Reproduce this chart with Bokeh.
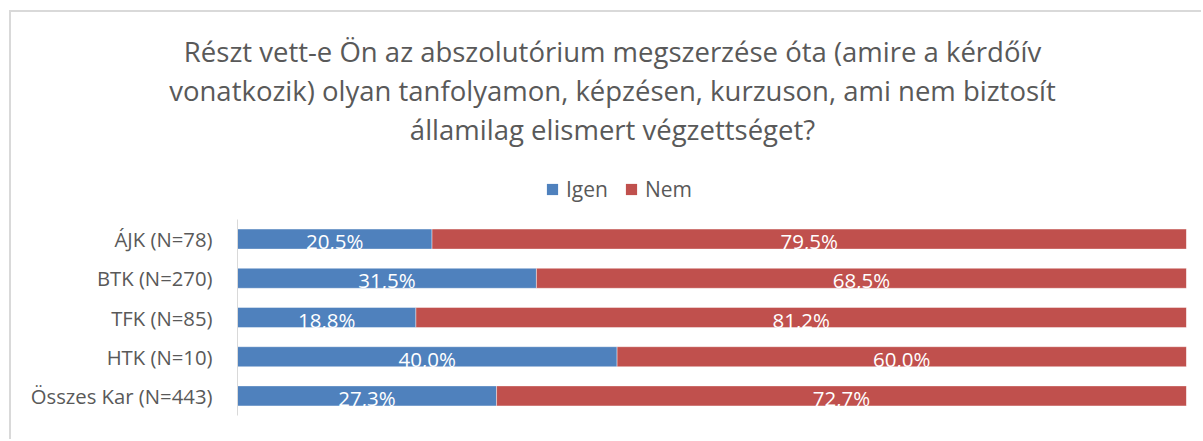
from bokeh.plotting import figure
from bokeh.layouts import column
from bokeh.models import ColumnDataSource, Range1d, FactorRange, Legend, LegendItem, Label
from bokeh.embed import file_html
from bokeh.resources import INLINE
from bokeh.core.properties import value

# ---- data ----
categories = ["ÁJK (N=78)", "BTK (N=270)", "TFK (N=85)", "HTK (N=10)", "Összes Kar (N=443)"]
igen = [20.5, 31.5, 18.8, 40.0, 27.3]
nem = [79.5, 68.5, 81.2, 60.0, 72.7]
series_names = ["Igen", "Nem"]
title_lines = [
    "Részt vett-e Ön az abszolutórium megszerzése óta (amire a kérdőív",
    "vonatkozik) olyan tanfolyamon, képzésen, kurzuson, ami nem biztosít",
    "államilag elismert végzettséget?",
]

FONT = "Open Sans"
BLUE = "#4F81BD"
RED = "#C0504D"
GREY = "#595959"
BORDER = "2px solid #D9D9D9"


def fmt(v):
    return f"{v:.1f}".replace(".", ",") + "%"


nem_left = igen
nem_right = [a + b for a, b in zip(igen, nem)]

src_igen = ColumnDataSource(dict(
    cat=categories, left=[0] * len(igen), right=igen,
    xc=[r / 2 for r in igen], lab=[fmt(v) for v in igen]))
src_nem = ColumnDataSource(dict(
    cat=categories, left=nem_left, right=nem_right,
    xc=[(l + r) / 2 for l, r in zip(nem_left, nem_right)], lab=[fmt(v) for v in nem]))
sources = (src_igen, src_nem)
colors = (BLUE, RED)

# ---------------- header: title + legend ----------------
HW, HH = 1192, 200
head = figure(width=HW, height=HH, output_backend="svg", toolbar_location=None,
              x_range=Range1d(0, HW), y_range=Range1d(0, HH),
              x_axis_location=None, y_axis_location=None,
              min_border=0, min_border_left=0, min_border_right=0,
              min_border_top=0, min_border_bottom=0)
head.frame_align = False
head.outline_line_color = None
head.grid.visible = False
head.background_fill_color = "white"
head.border_fill_color = "white"
head.styles = {"border-top": BORDER, "border-left": BORDER}

for i, line in enumerate(title_lines):
    head.add_layout(Label(x=601, y=161 - 39 * i, x_units="screen", y_units="screen",
                          text=line, text_align="center", text_baseline="alphabetic",
                          text_font=FONT, text_font_size="27.5px", text_color=GREY))

# legend proxies: same sources, but the header has no category scale, so no bars appear here
h_r = [head.hbar(y="cat", left="left", right="right", height=1, source=s,
                 fill_color=c, line_color=None)
       for s, c in zip(sources, colors)]
legend = Legend(items=[LegendItem(label=n, renderers=[r]) for n, r in zip(series_names, h_r)],
                orientation="horizontal", location=(534, 9),
                glyph_width=14, glyph_height=14, label_standoff=7, spacing=16,
                label_text_font=FONT, label_text_font_size="21px", label_text_color=GREY,
                label_height=20, padding=0, margin=0, border_line_color=None,
                background_fill_alpha=0)
head.add_layout(legend, "center")

# ---------------- main chart ----------------
p = figure(width=1192, height=229, output_backend="svg", toolbar_location=None,
           y_range=FactorRange(factors=categories[::-1]), x_range=Range1d(0, 100),
           min_border_left=226, min_border_right=17, min_border_top=9, min_border_bottom=24)
p.frame_align = False
p.styles = {"border-left": BORDER}
p.outline_line_color = None
p.grid.visible = False
p.xaxis.visible = False
p.background_fill_color = "white"
p.border_fill_color = "white"

yax = p.yaxis[0]
yax.axis_line_color = "#D9D9D9"
yax.major_tick_line_color = None
yax.minor_tick_line_color = None
yax.major_tick_out = 0
yax.major_label_standoff = 25
yax.major_label_text_font = FONT
yax.major_label_text_font_size = "20.3px"
yax.major_label_text_color = GREY

for s, c in zip(sources, colors):
    p.hbar(y="cat", left="left", right="right", height=0.51, source=s,
           fill_color=c, line_color="white", line_alpha=0.4, line_width=1)

for s in sources:
    p.text(x="xc", y="cat", text="lab", source=s, text_font=value(FONT),
           text_font_size=value("20.5px"), text_color="white", text_align="center",
           text_baseline="middle", y_offset=2)

layout = column(head, p, spacing=0)
layout.margin = (10, 0, 0, 9)

open("out.html", "w").write(file_html(layout, INLINE))
